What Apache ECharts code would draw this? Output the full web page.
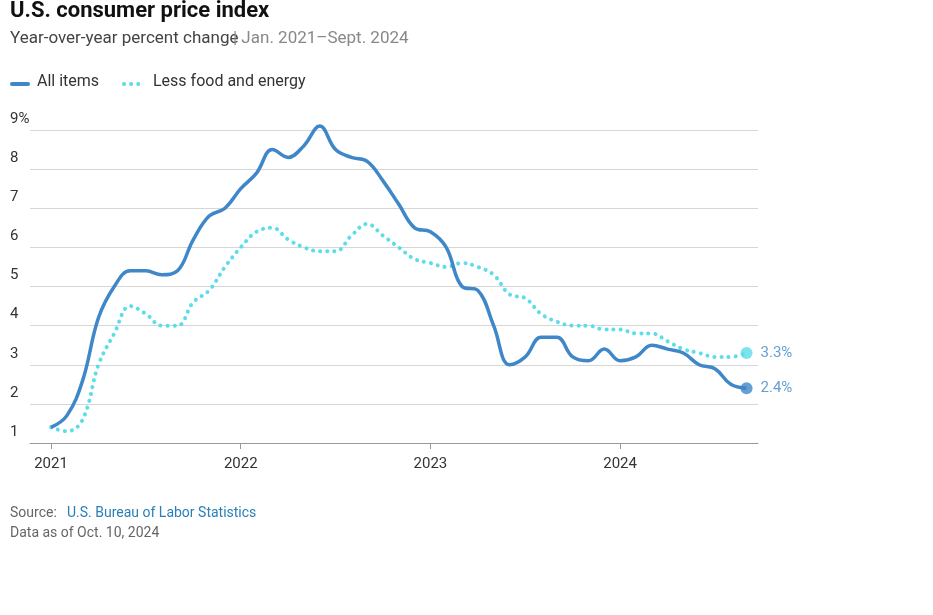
<!DOCTYPE html>
<html lang="en">
  <head>
    <meta charset="UTF-8" />
    <title>U.S. consumer price index</title>
    <script src="https://cdn.jsdelivr.net/npm/echarts@6/dist/echarts.min.js"></script>
    <style>
      body { margin: 0; background: #fff; }
      #chart { width: 933px; height: 615px; }
    </style>
  </head>
  <body>
    <div id="chart"></div>
    <script>
      const COLORS = { all: "#3e87c8", core: "#5cdde9", text: "#333", muted: "#666" };

      // YoY % change, Jan 2021 - Sep 2024
      const allItems = [
        1.4, 1.7, 2.6, 4.2, 5.0, 5.4, 5.4, 5.3, 5.4, 6.2, 6.8, 7.0,
        7.5, 7.9, 8.5, 8.3, 8.6, 9.1, 8.5, 8.3, 8.2, 7.7, 7.1, 6.5,
        6.4, 6.0, 5.0, 4.9, 4.0, 3.0, 3.2, 3.7, 3.7, 3.2, 3.1, 3.4,
        3.1, 3.2, 3.5, 3.4, 3.3, 3.0, 2.9, 2.5, 2.4,
      ];
      const core = [
        1.4, 1.3, 1.6, 3.0, 3.8, 4.5, 4.3, 4.0, 4.0, 4.6, 4.9, 5.5,
        6.0, 6.4, 6.5, 6.2, 6.0, 5.9, 5.9, 6.3, 6.6, 6.3, 6.0, 5.7,
        5.6, 5.5, 5.6, 5.5, 5.3, 4.8, 4.7, 4.3, 4.1, 4.0, 4.0, 3.9,
        3.9, 3.8, 3.8, 3.6, 3.4, 3.3, 3.2, 3.2, 3.3,
      ];
      const toPoints = (arr) => arr.map((v, i) => [2021 + i / 12, v]);
      const lastLabel = (arr, color) => ({
        data: [{ coord: [2021 + (arr.length - 1) / 12, arr[arr.length - 1]] }],
        symbol: "circle",
        symbolSize: 12,
        itemStyle: { color: color, opacity: 0.8 },
        label: {
          show: true, position: "right", distance: 8, color: COLORS.all,
          fontSize: 15, formatter: arr[arr.length - 1].toFixed(1) + "%",
        },
      });

      const chart = echarts.init(document.getElementById("chart"));
      chart.setOption({
        animation: false,
        textStyle: { fontFamily: "Roboto, 'Noto Sans', sans-serif" },
        grid: { left: 30, right: 175, top: 130, bottom: 172 },
        xAxis: {
          type: "value",
          min: 2020.889,
          max: 2024.727,
          splitLine: { show: false },
          axisLine: { lineStyle: { color: "#999" } },
          axisTick: { customValues: [2021, 2022, 2023, 2024], length: 6, lineStyle: { color: "#999" } },
          axisLabel: {
            customValues: [2021, 2022, 2023, 2024],
            formatter: (v) => String(Math.round(v)),
            color: COLORS.text, fontSize: 15, margin: 14,
          },
        },
        yAxis: {
          type: "value",
          min: 1, max: 9, interval: 1,
          axisLine: { show: false },
          axisTick: { show: false },
          splitLine: { lineStyle: { color: "#d6d6d6" } },
          axisLabel: {
            color: COLORS.text, fontSize: 15, align: "left", margin: 20,
            verticalAlign: "bottom", lineHeight: 22,
            formatter: (v) => (v === 9 ? "9%" : v),
          },
        },
        graphic: [
          { type: "text", left: 10, top: 0, style: { text: "U.S. consumer price index", font: "bold 22px Roboto", fill: "#111" } },
          { type: "text", left: 10, top: 30, style: { text: "Year-over-year percent change", font: "17px Roboto", fill: "#444" } },
          { type: "text", left: 233, top: 30, style: { text: "| Jan. 2021–Sept. 2024", font: "17px Roboto", fill: "#888" } },
          { type: "line", shape: { x1: 12, y1: 84, x2: 28, y2: 84 }, style: { stroke: COLORS.all, lineWidth: 4, lineCap: "round" } },
          { type: "text", left: 37, top: 74, style: { text: "All items", font: "16px Roboto", fill: COLORS.text } },
          { type: "line", shape: { x1: 124, y1: 84, x2: 142, y2: 84 }, style: { stroke: COLORS.core, lineWidth: 4, lineCap: "round", lineDash: [0.1, 7] } },
          { type: "text", left: 153, top: 74, style: { text: "Less food and energy", font: "16px Roboto", fill: COLORS.text } },
          { type: "text", left: 10, top: 506, style: { text: "Source: ", font: "14px Roboto", fill: COLORS.muted } },
          { type: "text", left: 67, top: 506, style: { text: "U.S. Bureau of Labor Statistics", font: "14px Roboto", fill: "#2a7fb8" } },
          { type: "text", left: 10, top: 526, style: { text: "Data as of Oct. 10, 2024", font: "14px Roboto", fill: COLORS.muted } },
        ],
        series: [
          {
            name: "Less food and energy",
            type: "line",
            data: toPoints(core),
            smooth: 0.4,
            clip: false,
            showSymbol: false,
            lineStyle: { color: COLORS.core, width: 4, type: [0.1, 7], cap: "round" },
            markPoint: lastLabel(core, COLORS.core),
          },
          {
            name: "All items",
            type: "line",
            data: toPoints(allItems),
            smooth: 0.4,
            clip: false,
            showSymbol: false,
            lineStyle: { color: COLORS.all, width: 3.5 },
            markPoint: lastLabel(allItems, COLORS.all),
          },
        ],
      });
    </script>
  </body>
</html>
